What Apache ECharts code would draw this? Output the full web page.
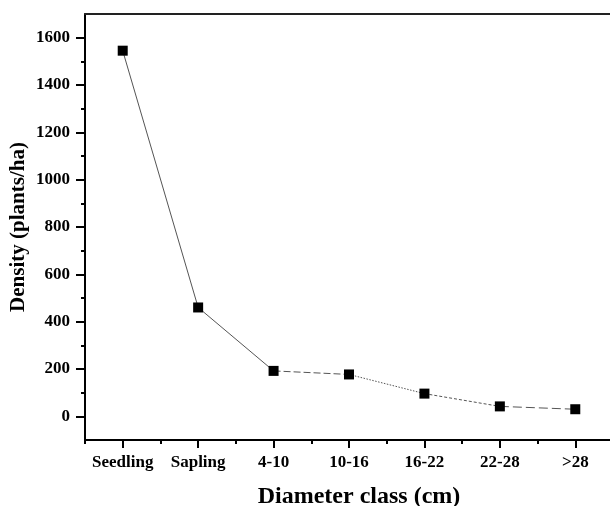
<!DOCTYPE html>
<html>
<head>
<meta charset="utf-8">
<script src="https://cdn.jsdelivr.net/npm/echarts@6/dist/echarts.min.js"></script>
<style>
html,body{margin:0;padding:0;background:#fff;}
#chart{width:610px;height:506px;}
</style>
</head>
<body>
<div id="chart"></div>
<script>
const categories = ['Seedling', 'Sapling', '4-10', '10-16', '16-22', '22-28', '>28'];
const density = [1545, 460, 192, 177, 96, 42, 30];
const yMajorTicks = [0, 200, 400, 600, 800, 1000, 1200, 1400, 1600];
const yMinorTicks = [100, 300, 500, 700, 900, 1100, 1300, 1500];
const segmentDash = ['solid', 'solid', [7, 3], [1.5, 1.5], [3, 2], [9, 4]];

const FONT = '"Liberation Serif", "Times New Roman", serif';

const segSeries = [];
for (let i = 0; i < density.length - 1; i++) {
  const d = density.map((v, j) => (j === i || j === i + 1) ? v : null);
  segSeries.push({
    type: 'line', data: d, symbol: 'none', silent: true,
    lineStyle: { color: '#555', width: 1, type: segmentDash[i] },
    connectNulls: false, z: 2
  });
}

const chart = echarts.init(document.getElementById('chart'), null, { renderer: 'canvas' });
chart.setOption({
  animation: false,
  backgroundColor: '#fff',
  grid: { left: 85, top: 14, width: 528, bottom: 66, containLabel: false, outerBoundsMode: 'none' },
  xAxis: [
    {
      type: 'category', data: categories, boundaryGap: true, position: 'bottom',
      axisLine: { onZero: false, lineStyle: { color: '#000', width: 2 } },
      axisTick: { show: true, interval: 0, alignWithLabel: true, length: 8, lineStyle: { color: '#000', width: 2 } },
      axisLabel: { interval: 0, color: '#000', fontFamily: FONT, fontWeight: 'bold', fontSize: 17, margin: 14 },
      splitLine: { show: false },
      name: 'Diameter class (cm)', nameLocation: 'middle', nameGap: 45, nameMoveOverlap: false,
      nameTextStyle: { color: '#000', fontFamily: FONT, fontWeight: 'bold', fontSize: 24, padding: [0, 0, 0, 20] }
    },
    {
      type: 'category', data: categories, boundaryGap: true, position: 'bottom',
      axisLine: { show: false, onZero: false },
      axisTick: { show: true, interval: 0, length: 4, lineStyle: { color: '#000', width: 2 } },
      axisLabel: { show: false }, splitLine: { show: false }
    },
    {
      type: 'category', data: categories, boundaryGap: true, position: 'top',
      axisLine: { onZero: false, lineStyle: { color: '#222', width: 2 } },
      axisTick: { show: false }, axisLabel: { show: false }, splitLine: { show: false }
    }
  ],
  yAxis: [
    {
      type: 'value', min: -100, max: 1700, interval: 100,
      axisLine: { show: true, onZero: false, lineStyle: { color: '#000', width: 2 } },
      axisTick: { show: true, length: 9, customValues: yMajorTicks, lineStyle: { color: '#000', width: 2 } },
      axisLabel: { customValues: yMajorTicks, formatter: v => String(v), color: '#000', fontFamily: FONT, fontWeight: 'bold', fontSize: 17, margin: 15 },
      splitLine: { show: false },
      name: 'Density (plants/ha)', nameLocation: 'middle', nameGap: 56, nameMoveOverlap: false,
      nameTextStyle: { color: '#000', fontFamily: FONT, fontWeight: 'bold', fontSize: 21 }
    },
    {
      type: 'value', min: -100, max: 1700, interval: 100, position: 'left',
      axisLine: { show: false, onZero: false },
      axisTick: { show: true, length: 4, customValues: yMinorTicks, lineStyle: { color: '#000', width: 2 } },
      axisLabel: { show: false }, splitLine: { show: false }
    }
  ],
  series: segSeries.concat([{
    type: 'line', data: density, symbol: 'rect', symbolSize: 10,
    itemStyle: { color: '#000' }, lineStyle: { width: 0, opacity: 0 }, z: 5
  }])
});
</script>
</body>
</html>
